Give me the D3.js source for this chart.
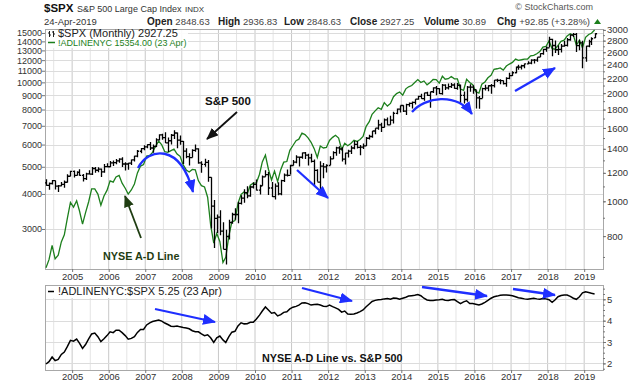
<!DOCTYPE html>
<html>
<head>
<meta charset="utf-8">
<script src="https://cdn.jsdelivr.net/npm/d3@7"></script>
<style>
  body { margin: 0; background: #fff; }
  svg { display: block; font-family: "Liberation Sans", Arial, sans-serif; }
</style>
</head>
<body>
<svg width="640" height="385"></svg>
<script>
// monthly bars, Apr 2004 .. Apr 2019
const firstMonth = new Date(2004, 3, 1);

const spxClose = [
  1107,1121,1141,1102,1104,1115,1130,1174,1212,
  1181,1204,1181,1157,1192,1191,1234,1220,1229,1207,1249,1248,
  1280,1281,1295,1311,1270,1270,1277,1304,1336,1378,1401,1418,
  1438,1407,1421,1482,1531,1503,1455,1474,1527,1549,1481,1468,
  1379,1331,1323,1386,1400,1280,1267,1283,1166,969,896,903,
  826,735,798,873,919,919,987,1021,1057,1036,1096,1115,
  1074,1104,1169,1187,1089,1031,1102,1049,1141,1183,1181,1258,
  1286,1327,1326,1364,1345,1321,1292,1219,1131,1253,1247,1258,
  1312,1366,1408,1398,1310,1362,1379,1407,1441,1412,1416,1426,
  1498,1515,1569,1598,1631,1606,1686,1633,1682,1757,1806,1848,
  1783,1859,1872,1884,1924,1960,1931,2003,1972,2018,2068,2059,
  1995,2105,2068,2086,2107,2063,2104,1972,1920,2079,2080,2044,
  1940,1932,2060,2065,2097,2099,2174,2171,2168,2126,2199,2239,
  2279,2364,2363,2384,2412,2423,2470,2472,2519,2575,2648,2674,
  2824,2714,2641,2648,2705,2718,2816,2902,2914,2712,2760,2507,
  2704,2784,2834,2927
];
const spxOpen = [
  1126,1107,1121,1141,1102,1104,1115,1130,1174,
  1212,1181,1204,1181,1157,1192,1191,1234,1220,1229,1207,1249,
  1248,1280,1281,1295,1311,1270,1270,1277,1304,1336,1378,1401,
  1418,1438,1407,1421,1482,1531,1503,1455,1474,1527,1549,1481,
  1468,1379,1331,1323,1386,1400,1280,1267,1283,1166,969,896,
  903,826,735,798,873,919,919,987,1021,1057,1036,1096,
  1115,1074,1104,1169,1187,1089,1031,1102,1049,1141,1183,1181,
  1258,1286,1327,1326,1364,1345,1321,1292,1219,1131,1253,1247,
  1258,1312,1366,1408,1398,1310,1362,1379,1407,1441,1412,1416,
  1426,1498,1515,1569,1598,1631,1606,1686,1633,1682,1757,1806,
  1848,1783,1859,1872,1884,1924,1960,1931,2003,1972,2018,2068,
  2059,1995,2105,2068,2086,2107,2063,2104,1972,1920,2079,2080,
  2044,1940,1932,2060,2065,2097,2099,2174,2171,2168,2126,2199,
  2239,2279,2364,2363,2384,2412,2423,2470,2472,2519,2575,2648,
  2674,2824,2714,2641,2648,2705,2718,2816,2902,2914,2712,2760,
  2507,2704,2784,2849
];
const spxHigh = [
  1151,1128,1146,1142,1110,1132,1142,1189,1217,
  1218,1212,1229,1192,1200,1220,1245,1246,1243,1233,1271,1276,
  1295,1298,1311,1318,1327,1284,1280,1307,1340,1390,1408,1432,
  1442,1462,1439,1498,1536,1541,1556,1504,1539,1576,1553,1524,
  1472,1404,1360,1397,1440,1404,1292,1313,1303,1167,1008,919,
  944,875,833,889,930,956,997,1040,1080,1101,1105,1130,
  1150,1112,1180,1220,1207,1131,1121,1129,1149,1196,1227,1263,
  1303,1344,1332,1367,1371,1357,1357,1307,1229,1293,1278,1269,
  1334,1378,1419,1422,1415,1364,1392,1427,1475,1471,1434,1448,
  1510,1531,1570,1598,1687,1654,1699,1710,1730,1775,1814,1849,
  1851,1868,1884,1897,1924,1968,1991,2005,2019,2018,2076,2094,
  2064,2120,2118,2126,2135,2130,2133,2113,2021,2094,2117,2104,
  2038,1963,2072,2111,2104,2121,2177,2194,2188,2170,2214,2278,
  2301,2372,2401,2398,2419,2454,2484,2491,2519,2582,2658,2695,
  2873,2836,2802,2718,2742,2792,2848,2917,2941,2940,2815,2800,
  2708,2814,2860,2937
];
const spxLow = [
  1105,1076,1113,1079,1061,1101,1090,1128,1174,
  1164,1180,1177,1136,1146,1188,1184,1201,1205,1168,1201,1247,
  1246,1254,1268,1281,1245,1219,1225,1261,1291,1327,1361,1386,
  1404,1389,1364,1416,1477,1484,1454,1371,1439,1490,1406,1436,
  1270,1317,1257,1324,1373,1272,1200,1248,1134,840,741,816,
  804,735,667,783,866,889,869,979,991,1020,1029,1086,
  1072,1045,1105,1171,1041,1028,1011,1040,1040,1132,1173,1187,
  1258,1276,1249,1313,1312,1258,1283,1102,1136,1075,1159,1202,
  1259,1312,1340,1357,1291,1267,1325,1355,1397,1403,1343,1398,
  1426,1485,1502,1536,1581,1560,1605,1628,1633,1647,1746,1768,
  1771,1738,1834,1814,1860,1916,1931,1905,1964,1821,2001,1973,
  1988,1981,2040,2048,2068,2056,2044,1867,1872,1894,2019,1993,
  1812,1810,1937,2034,2026,1992,2074,2148,2119,2115,2084,2187,
  2234,2272,2322,2329,2345,2406,2408,2417,2447,2520,2557,2606,
  2682,2533,2586,2554,2595,2692,2699,2796,2864,2604,2631,2347,
  2444,2682,2722,2849
];
// !ADLINENYC:$SPX ratio
const adRatio = [
  1.97,2.08,2.30,2.13,2.19,2.42,2.53,2.80,3.08,
  3.04,3.14,2.95,2.70,2.88,3.15,3.38,3.42,3.25,3.02,3.15,3.30,
  3.48,3.44,3.55,3.55,3.44,3.30,3.13,3.17,3.25,3.45,3.59,3.59,
  3.80,3.90,3.96,4.00,4.03,3.98,3.89,3.82,3.74,3.73,3.75,3.71,
  3.68,3.66,3.62,3.53,3.48,3.48,3.38,3.30,3.34,3.20,2.98,3.20,
  3.28,3.10,2.98,3.25,3.46,3.50,3.75,3.90,3.85,3.86,3.92,3.92,
  4.08,4.26,4.45,4.64,4.50,4.35,4.38,4.22,4.28,4.39,4.42,4.55,
  4.63,4.67,4.73,4.83,4.84,4.80,4.73,4.76,4.77,4.73,4.68,4.66,
  4.73,4.66,4.60,4.53,4.40,4.45,4.31,4.30,4.31,4.36,4.42,4.50,
  4.65,4.78,4.90,4.95,4.98,4.99,5.02,5.04,5.00,5.06,5.05,5.00,
  5.05,5.10,5.15,5.17,5.19,5.22,5.17,5.05,4.97,4.95,4.95,4.97,
  4.98,5.00,4.96,4.94,4.98,4.99,4.89,4.80,4.88,4.93,4.80,4.80,
  4.77,4.74,4.78,4.86,4.95,5.05,5.12,5.15,5.19,5.20,5.20,5.19,
  5.17,5.12,5.07,5.05,5.02,5.00,5.03,5.05,5.02,5.00,5.04,5.02,
  4.98,4.86,4.97,5.12,5.18,5.20,5.20,5.14,5.05,5.00,5.12,5.30,
  5.35,5.32,5.28,5.25
];

const yearTicks = d3.range(2005, 2020);
const adTicks = [3000, 4000, 5000, 6000, 7000, 8000, 9000, 10000, 11000, 12000, 13000, 14000, 15000];
const spxTicks = [800, 1000, 1200, 1400, 1600, 1800, 2000, 2200, 2400, 2600, 2800, 3000];
const ratioTicks = [2, 3, 4, 5];

const bars = spxClose.map((c, i) => ({
  date: d3.timeDay.offset(d3.timeMonth.offset(firstMonth, i), 14),
  open: spxOpen[i], high: spxHigh[i], low: spxLow[i], close: c,
  ratio: adRatio[i], ad: adRatio[i] * c
}));

const svg = d3.select("svg");
const L = 45, R = 603;
const top1 = 29, bot1 = 269, top2 = 285, bot2 = 370;

const x = d3.scaleTime().domain([new Date(2004, 3, 5), new Date(2019, 6, 8)]).range([L, R]);
const yAd = d3.scaleLog().domain([2160, 15497]).range([bot1, top1]);
const ySpx = d3.scaleLog().domain([648, 3017]).range([bot1, top1]);
const yR = d3.scaleLinear().domain([1.69, 5.67]).range([bot2, top2]);

const yearDates = yearTicks.map(y => new Date(y, 0, 1));
const halfDates = d3.range(2004, 2019).map(y => new Date(y, 6, 1));

const defs = svg.append("defs");
[["c1", top1, bot1], ["c2", top2, bot2]].forEach(([id, t, b]) => {
  defs.append("clipPath").attr("id", id).append("rect")
    .attr("x", L).attr("y", t).attr("width", R - L).attr("height", b - t);
});
function marker(id, color, w, h) {
  defs.append("marker").attr("id", id)
    .attr("markerUnits", "userSpaceOnUse")
    .attr("markerWidth", w).attr("markerHeight", h)
    .attr("refX", w - 1).attr("refY", h / 2).attr("orient", "auto")
    .append("path").attr("d", `M0,0L${w},${h / 2}L0,${h}Z`).attr("fill", color);
}
marker("hBlue", "#1f2fff", 13, 11);
marker("hBlack", "#111", 12, 10);
marker("hGreen", "#1f3d12", 12, 10);

// grids
function grid(t, b, yScale, vals) {
  const g = svg.append("g");
  g.selectAll(".h").data(halfDates).join("line")
    .attr("x1", d => x(d)).attr("x2", d => x(d)).attr("y1", t).attr("y2", b)
    .attr("stroke", "#e4e4e4");
  g.selectAll(".y").data(yearDates).join("line")
    .attr("x1", d => x(d)).attr("x2", d => x(d)).attr("y1", t).attr("y2", b)
    .attr("stroke", "#c8c8c8");
  g.selectAll(".r").data(vals).join("line")
    .attr("x1", L).attr("x2", R).attr("y1", d => Math.round(yScale(d)) + .5).attr("y2", d => Math.round(yScale(d)) + .5)
    .attr("stroke", "#dcdcdc");
  svg.append("rect").attr("x", L + .5).attr("y", t + .5).attr("width", R - L).attr("height", b - t)
    .attr("fill", "none").attr("stroke", "#a8a8a8");
}
grid(top1, bot1, yAd, adTicks);
grid(top2, bot2, yR, ratioTicks);

// axes
function styleAxis(g, size) {
  g.select(".domain").remove();
  g.selectAll("line").attr("stroke", "#777");
  g.selectAll("text").attr("fill", "#333").style("font-size", size + "px").style("font-family", "'Liberation Sans', Arial, sans-serif");
}
svg.append("g").attr("transform", `translate(${L},0)`)
  .call(d3.axisLeft(yAd).tickValues(adTicks).tickSize(3).tickPadding(0).tickFormat(d3.format("d")))
  .call(g => styleAxis(g, 9));
svg.append("g").attr("transform", `translate(${R},0)`)
  .call(d3.axisRight(ySpx).tickValues(d3.range(700, 3001, 100)).tickSize(2).tickFormat(""))
  .call(g => styleAxis(g, 9));
svg.append("g").attr("transform", `translate(${R},0)`)
  .call(d3.axisRight(ySpx).tickValues(spxTicks).tickSize(3).tickPadding(1).tickFormat(d3.format("d")))
  .call(g => styleAxis(g, 9.5));
svg.append("g").attr("transform", `translate(${R},0)`)
  .call(d3.axisRight(yR).tickValues(d3.range(1.75, 5.6, 0.25)).tickSize(2).tickFormat(""))
  .call(g => styleAxis(g, 9));
svg.append("g").attr("transform", `translate(${R},0)`)
  .call(d3.axisRight(yR).tickValues(ratioTicks).tickSize(3).tickPadding(1).tickFormat(d3.format("d")))
  .call(g => styleAxis(g, 9.5));
svg.append("g").attr("transform", `translate(0,${bot1})`)
  .call(d3.axisBottom(x).tickValues(yearDates).tickSize(3).tickPadding(1).tickFormat(d3.timeFormat("%Y")))
  .call(g => styleAxis(g, 9.5));
svg.append("g").attr("transform", `translate(0,${bot2})`)
  .call(d3.axisBottom(x).tickValues(yearDates).tickSize(3).tickPadding(0).tickFormat(d3.timeFormat("%Y")))
  .call(g => styleAxis(g, 9.5));

// main panel: A-D line and OHLC bars
const p1 = svg.append("g").attr("clip-path", "url(#c1)");
p1.append("path").datum(bars)
  .attr("d", d3.line().x(d => x(d.date)).y(d => yAd(d.ad)))
  .attr("fill", "none").attr("stroke", "#1c7f1c").attr("stroke-width", 1.3);
p1.append("g").selectAll("path").data(bars).join("path")
  .attr("d", d => {
    const cx = Math.round(x(d.date)) + .5;
    return `M${cx},${ySpx(d.high)}V${ySpx(d.low)}M${cx - 1.6},${ySpx(d.open)}H${cx}M${cx},${ySpx(d.close)}H${cx + 1.6}`;
  })
  .attr("fill", "none").attr("stroke", "#000").attr("stroke-width", 1.3);

// lower panel ratio
svg.append("g").attr("clip-path", "url(#c2)").append("path").datum(bars)
  .attr("d", d3.line().x(d => x(d.date)).y(d => yR(d.ratio)))
  .attr("fill", "none").attr("stroke", "#000").attr("stroke-width", 1.5);

// legends
svg.append("rect").attr("x", L + 1).attr("y", top1 + 1).attr("width", 142).attr("height", 18).attr("fill", "#fff").attr("opacity", .9);
svg.append("path").attr("d", "M49.5,31V37M48,33H49.5M49.5,35H51M53.5,31V37M52,32H53.5M53.5,34H55")
  .attr("stroke", "#222").attr("fill", "none");
svg.append("text").attr("x", 58).attr("y", 37).style("font-size", "11px").attr("fill", "#222")
  .text("$SPX (Monthly) 2927.25");
svg.append("line").attr("x1", 48).attr("x2", 55).attr("y1", 42.5).attr("y2", 42.5).attr("stroke", "#1c7f1c").attr("stroke-width", 1.5);
svg.append("text").attr("x", 58).attr("y", 46).style("font-size", "9px").attr("fill", "#1c7f1c")
  .text("!ADLINENYC 15354.00 (23 Apr)");

svg.append("rect").attr("x", L + 1).attr("y", top2 + 1).attr("width", 178).attr("height", 12).attr("fill", "#fff");
svg.append("line").attr("x1", 48).attr("x2", 54).attr("y1", 291.5).attr("y2", 291.5).attr("stroke", "#000").attr("stroke-width", 1.5);
svg.append("text").attr("x", 58).attr("y", 295).style("font-size", "11px").attr("fill", "#222")
  .text("!ADLINENYC:$SPX 5.25 (23 Apr)");

// header
const head = svg.append("g");
head.append("text").attr("x", 44).attr("y", 12).style("font-size", "11.5px").style("font-weight", "bold").attr("fill", "#111").text("$SPX");
head.append("text").attr("x", 77).attr("y", 11.5).style("font-size", "9px").attr("fill", "#333").text("S&P 500 Large Cap Index");
head.append("text").attr("x", 185).attr("y", 11.5).style("font-size", "8px").attr("fill", "#333").text("INDX");
head.append("text").attr("x", 44).attr("y", 25).style("font-size", "9.5px").attr("fill", "#333").text("24-Apr-2019");
const fields = [["Open", "2848.63", 147], ["High", "2936.83", 218], ["Low", "2848.63", 284],
  ["Close", "2927.25", 350], ["Volume", "30.89", 424], ["Chg", "+92.85 (+3.28%)", 497]];
fields.forEach(([k, v, px]) => {
  const t = head.append("text").attr("x", px).attr("y", 25).attr("fill", "#222");
  t.append("tspan").style("font-size", "10px").style("font-weight", "bold").text(k + " ");
  t.append("tspan").style("font-size", "9.5px").attr("fill", "#444").text(v);
});
head.append("path").attr("d", "M594,24L597.5,19L601,24Z").attr("fill", "#1c7f1c");
head.append("text").attr("x", 593).attr("y", 10).attr("text-anchor", "end").style("font-size", "9px").attr("fill", "#555").text("\u00a9 StockCharts.com");

// annotations
const ann = svg.append("g").attr("fill", "none");
function arrow(d, color, mk, w) {
  ann.append("path").attr("d", d).attr("stroke", color).attr("stroke-width", w).attr("marker-end", `url(#${mk})`);
}
arrow("M138,168C148,148 180,142 193,192", "#1f2fff", "hBlue", 2.3);
arrow("M297,170L328,198", "#1f2fff", "hBlue", 2.3);
arrow("M412,112C425,97 456,92 472,114", "#1f2fff", "hBlue", 2.3);
arrow("M515,91L555,68", "#1f2fff", "hBlue", 2.3);
arrow("M155,309L215,322", "#1f2fff", "hBlue", 2.3);
arrow("M302,288L352,301", "#1f2fff", "hBlue", 2.3);
arrow("M422,287L487,296", "#1f2fff", "hBlue", 2.3);
arrow("M513,289L555,295", "#1f2fff", "hBlue", 2.3);
arrow("M237,112L207,139", "#111", "hBlack", 1.8);
arrow("M141,238L125,196", "#1f3d12", "hGreen", 1.8);

svg.append("text").attr("x", 205).attr("y", 105).style("font-size", "11.5px").style("font-weight", "bold").attr("fill", "#111").text("S&P 500");
svg.append("text").attr("x", 103).attr("y", 260).style("font-size", "10.8px").style("font-weight", "bold").attr("fill", "#1f3d12").text("NYSE A-D Line");
svg.append("text").attr("x", 262).attr("y", 362).style("font-size", "10.8px").style("font-weight", "bold").attr("fill", "#111").text("NYSE A-D Line vs. S&P 500");
</script>
</body>
</html>
